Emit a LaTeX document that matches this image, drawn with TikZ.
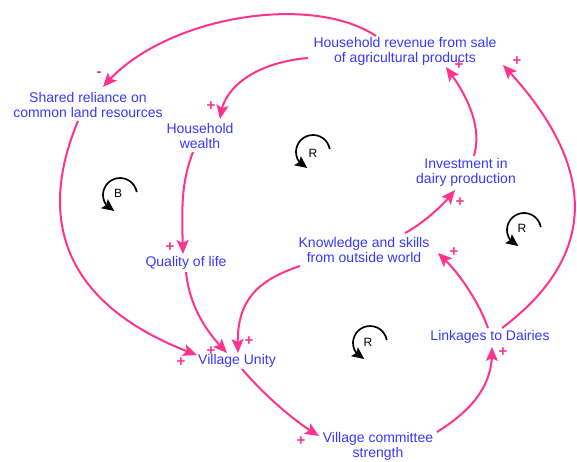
\documentclass[tikz,border=0pt]{standalone}
\usepackage{fontspec}
\setmainfont{Liberation Sans}
\usetikzlibrary{arrows.meta,bending}
\definecolor{lk}{RGB}{255,51,140}
\definecolor{tx}{RGB}{55,55,255}
\begin{document}
\begin{tikzpicture}[x=1pt,y=-1pt,
  lbl/.style={text=tx, font=\fontsize{14}{15}\selectfont, align=center, inner sep=0pt},
  link/.style={draw=lk, line width=2pt, -{Stealth[length=14pt,width=12pt,inset=3pt]}},
  pol/.style={text=lk, font=\fontsize{15}{15}\selectfont\bfseries, inner sep=0pt},
  loopar/.style={draw=black, line width=1.7pt, -{Stealth[length=12pt,width=11pt,inset=2pt,flex]}},
  looplbl/.style={font=\fontsize{12}{12}\selectfont, inner sep=0pt}]
\path[use as bounding box] (0,0) rectangle (577,461);

% variables
\node[lbl] (rev) at (405,51.5) {Household revenue from sale\\of agricultural products};
\node[lbl] (shared) at (88,104.5) {Shared reliance on\\common land resources};
\node[lbl] (wealth) at (200,136) {Household\\wealth};
\node[lbl] (invest) at (466,172.5) {Investment in\\dairy production};
\node[lbl] (know) at (364,249.5) {Knowledge and skills\\from outside world};
\node[lbl] (qual) at (186,263) {Quality of life};
\node[lbl] (dairy) at (490,337) {Linkages to Dairies};
\node[lbl] (unity) at (237,361) {Village Unity};
\node[lbl] (comm) at (378,446.5) {Village committee\\strength};

% links
\draw[link] ([shift={(-29,-15.5)}]rev.center) .. controls +(-66,-44) and +(57,-70) .. ([shift={(15,-17.5)}]shared.center);
\draw[link] ([shift={(-97,6.5)}]rev.center) .. controls +(-48,4) and +(2,-34) .. ([shift={(20,-17)}]wealth.center);
\draw[link] ([shift={(8,-16.5)}]invest.center) .. controls +(9,-31) and +(19,25) .. ([shift={(41,15.5)}]rev.center);
\draw[link] ([shift={(12,-9)}]dairy.center) .. controls +(96,-72) and +(97,102) .. ([shift={(98,13.5)}]rev.center);
\draw[link] ([shift={(-10,16.5)}]shared.center) .. controls +(-46,110) and +(-122,-44) .. ([shift={(-40,-6)}]unity.center);
\draw[link] ([shift={(-7,16)}]wealth.center) .. controls +(-13,33) and +(-1,-40) .. ([shift={(-3,-9)}]qual.center);
\draw[link] ([shift={(0,9)}]qual.center) .. controls +(3,30) and +(-24.5,-24.5) .. ([shift={(-10,-8)}]unity.center);
\draw[link] ([shift={(-64,16.5)}]know.center) .. controls +(-48,16) and +(-3,-48) .. ([shift={(1,-8)}]unity.center);
\draw[link] ([shift={(41,-16.5)}]know.center) .. controls +(17.6,-9.4) and +(-12,16) .. ([shift={(-11,17.5)}]invest.center);
\draw[link] ([shift={(5,8)}]unity.center) .. controls +(19.5,23) and +(-26,-15) .. ([shift={(-59,-10.5)}]comm.center);
\draw[link] ([shift={(59,-14.5)}]comm.center) .. controls +(35,-22) and +(2,38) .. ([shift={(2,10)}]dairy.center);
\draw[link] ([shift={(-2,-9)}]dairy.center) .. controls +(-10,-28) and +(19,16.5) .. ([shift={(74,3.5)}]know.center);

% polarities
\node[pol] (p1) at (99,74) {-};
\node[pol] (p2) at (211,106) {+};
\node[pol] (p3) at (459,65) {+};
\node[pol] (p4) at (517,61) {+};
\node[pol] (p5) at (181,362) {+};
\node[pol] (p6) at (170,247) {+};
\node[pol] (p7) at (211,351) {+};
\node[pol] (p8) at (249,341) {+};
\node[pol] (p9) at (460,202) {+};
\node[pol] (p10) at (301,441) {+};
\node[pol] (p11) at (503,352) {+};
\node[pol] (p12) at (454,252) {+};

% loop markers
\draw[loopar] (120,195) ++(-10:17) arc[start angle=-10, end angle=-250, radius=17];
\node[looplbl] (lB) at (118,193) {B};
\draw[loopar] (313,152) ++(-10:17) arc[start angle=-10, end angle=-250, radius=17];
\node[looplbl] (lR1) at (313,153) {R};
\draw[loopar] (524,230) ++(-10:17) arc[start angle=-10, end angle=-250, radius=17];
\node[looplbl] (lR2) at (522,228) {R};
\draw[loopar] (370,343) ++(-10:17) arc[start angle=-10, end angle=-250, radius=17];
\node[looplbl] (lR3) at (368,342) {R};
\end{tikzpicture}
\end{document}
